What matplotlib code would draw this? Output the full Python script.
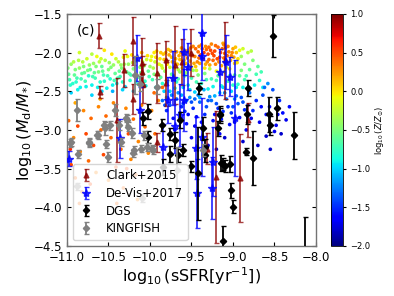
import numpy as np
import matplotlib
matplotlib.use("Agg")
import matplotlib.pyplot as plt

# ---------------- data ----------------
# background cloud, region by region: (log sSFR, log Md/M*, log Z/Zsun)
cloud_green_left = [
    (-10.98,-2.28,-0.6),(-10.95,-2.15,-0.4),(-10.93,-2.40,-0.8),(-10.90,-2.22,-0.5),(-10.88,-2.33,-0.7),
    (-10.86,-2.10,-0.3),(-10.84,-2.45,-0.9),(-10.82,-2.27,-0.6),(-10.80,-2.18,-0.5),(-10.78,-2.37,-0.7),
    (-10.76,-2.08,-0.2),(-10.74,-2.30,-0.8),(-10.72,-2.22,-0.6),(-10.70,-2.42,-0.9),(-10.68,-2.14,-0.4),
    (-10.66,-2.33,-0.7),(-10.64,-2.05,-0.1),(-10.62,-2.25,-0.5),(-10.60,-2.38,-0.8),(-10.58,-2.18,-0.6),
    (-10.56,-2.29,-0.7),(-10.54,-2.10,-0.3),(-10.52,-2.46,-0.9),(-10.50,-2.22,-0.5),(-10.48,-2.34,-0.8),
    (-10.46,-2.02,0.0),(-10.44,-2.16,-0.4),(-10.42,-2.27,-0.6),(-10.40,-2.40,-0.9),(-10.38,-2.12,-0.3),
    (-10.36,-2.31,-0.7),(-10.34,-2.20,-0.5),(-10.32,-2.06,-0.1),(-10.30,-2.44,-1.0),(-10.28,-2.25,-0.6),
    (-10.26,-2.15,-0.4),(-10.24,-2.36,-0.8),(-10.22,-2.03,0.0),(-10.20,-2.21,-0.5),(-10.18,-2.30,-0.7),
    (-10.16,-2.11,-0.2),(-10.14,-2.41,-0.9),(-10.12,-2.19,-0.5),(-10.10,-2.00,0.1),(-10.08,-2.28,-0.6),
    (-10.06,-2.37,-0.8),(-10.04,-2.09,-0.2),(-10.02,-2.24,-0.6),
    (-10.97,-2.35,-0.7),(-10.91,-2.29,-0.6),(-10.85,-2.20,-0.4),(-10.79,-2.26,-0.6),(-10.73,-2.16,-0.4),
    (-10.67,-2.26,-0.6),(-10.61,-2.12,-0.3),(-10.55,-2.37,-0.8),(-10.49,-2.13,-0.4),(-10.43,-2.36,-0.7),
    (-10.37,-2.24,-0.6),(-10.31,-2.15,-0.4),(-10.25,-2.27,-0.6),(-10.19,-2.08,-0.1),(-10.13,-2.32,-0.7),
    (-10.07,-2.17,-0.4),(-10.01,-2.31,-0.7),
    (-10.95,-2.52,-1.0),(-10.70,-2.55,-1.0),(-10.45,-2.50,-1.1),(-10.20,-2.50,-1.0),
    (-10.85,-2.00,-0.2),(-10.55,-1.97,0.0),(-10.30,-1.98,-0.1),(-10.70,-2.02,-0.3),
    (-10.99,-2.20,-0.5),(-10.96,-2.42,-0.8),(-10.92,-2.12,-0.3),(-10.89,-2.38,-0.8),(-10.83,-2.34,-0.7),
    (-10.81,-2.12,-0.3),(-10.77,-2.44,-0.9),(-10.75,-2.23,-0.5),(-10.69,-2.31,-0.7),(-10.65,-2.18,-0.5),
    (-10.63,-2.45,-0.9),(-10.59,-2.08,-0.2),(-10.57,-2.24,-0.6),(-10.51,-2.30,-0.7),(-10.47,-2.19,-0.5),
    (-10.45,-2.42,-0.9),(-10.41,-2.08,-0.2),(-10.39,-2.33,-0.7),(-10.35,-2.16,-0.4),(-10.33,-2.38,-0.8),
    (-10.27,-2.05,-0.1),(-10.23,-2.29,-0.7),(-10.21,-2.13,-0.3),(-10.17,-2.38,-0.8),(-10.11,-2.26,-0.6),
    (-10.09,-2.12,-0.3),(-10.05,-2.43,-0.9),(-10.03,-2.04,0.0),(-10.00,-2.18,-0.4),(-10.87,-2.48,-0.9),
    (-10.58,-2.50,-1.0),(-10.33,-2.48,-1.0),
]
cloud_yellow_mid = [
    (-9.98,-2.05,-0.1),(-9.96,-2.20,-0.3),(-9.94,-2.12,-0.2),(-9.92,-1.98,0.0),(-9.90,-2.28,-0.5),
    (-9.88,-2.08,0.0),(-9.86,-2.17,-0.2),(-9.84,-2.02,0.1),(-9.82,-2.24,-0.4),(-9.80,-2.11,0.0),
    (-9.78,-1.96,0.1),(-9.76,-2.19,-0.2),(-9.74,-2.06,0.1),(-9.72,-2.29,-0.5),(-9.70,-2.13,0.0),
    (-9.68,-1.99,0.2),(-9.66,-2.22,-0.3),(-9.64,-2.09,0.1),(-9.62,-1.94,0.2),(-9.60,-2.16,0.0),
    (-9.58,-2.03,0.2),(-9.56,-2.26,-0.4),(-9.54,-1.97,0.3),(-9.52,-2.11,0.1),(-9.50,-2.19,0.0),
    (-9.48,-1.92,0.3),(-9.46,-2.05,0.3),(-9.44,-2.23,-0.2),(-9.42,-1.99,0.4),(-9.40,-2.14,0.2),
    (-9.38,-1.90,0.3),(-9.36,-2.08,0.4),(-9.34,-2.20,0.0),(-9.32,-1.96,0.4),(-9.30,-2.02,0.5),
    (-9.28,-2.16,0.2),(-9.26,-1.89,0.3),(-9.24,-2.10,0.4),(-9.22,-1.98,0.5),(-9.20,-2.24,-0.1),
    (-9.18,-1.93,0.4),(-9.16,-2.06,0.5),(-9.14,-2.17,0.2),(-9.12,-1.88,0.2),(-9.10,-2.01,0.4),
    (-9.08,-2.12,0.3),(-9.06,-1.92,0.3),(-9.04,-2.21,0.0),(-9.02,-2.04,0.3),(-9.00,-1.95,0.2),
    (-8.98,-2.14,0.1),(-8.96,-2.00,0.1),(-8.94,-2.08,0.0),(-8.92,-1.97,-0.1),
    (-9.95,-2.00,0.0),(-9.89,-2.15,-0.1),(-9.83,-2.09,0.1),(-9.77,-2.03,0.2),(-9.71,-2.20,-0.2),
    (-9.65,-2.04,0.2),(-9.59,-2.10,0.2),(-9.53,-2.00,0.3),(-9.47,-2.14,0.2),(-9.41,-2.07,0.4),
    (-9.35,-2.00,0.5),(-9.29,-2.09,0.4),(-9.23,-2.04,0.5),(-9.17,-2.12,0.3),(-9.11,-2.07,0.4),
    (-9.05,-1.99,0.3),(-8.99,-2.06,0.2),(-9.45,-1.95,0.4),(-9.33,-1.92,0.3),(-9.21,-1.91,0.4),
    (-9.09,-1.94,0.3),(-9.57,-1.98,0.2),(-9.69,-2.08,0.1),(-9.81,-2.00,0.1),(-9.39,-2.03,0.5),
    (-9.27,-1.97,0.5),(-9.15,-2.00,0.5),(-9.03,-2.10,0.2),
    (-9.99,-2.10,-0.1),(-9.93,-2.06,0.0),(-9.87,-2.00,0.1),(-9.85,-2.20,-0.2),(-9.79,-2.15,0.0),
    (-9.75,-1.98,0.2),(-9.73,-2.12,0.1),(-9.67,-2.15,0.1),(-9.63,-2.00,0.2),(-9.61,-2.20,-0.1),
    (-9.55,-2.07,0.3),(-9.51,-1.94,0.3),(-9.49,-2.04,0.4),(-9.43,-2.12,0.3),(-9.37,-1.95,0.4),
    (-9.31,-2.12,0.3),(-9.25,-2.01,0.5),(-9.19,-2.08,0.5),(-9.13,-1.95,0.4),(-9.07,-2.04,0.4),
    (-9.01,-2.00,0.3),(-8.97,-1.93,0.1),(-8.95,-2.13,0.0),(-9.21,-2.15,0.3),(-9.33,-2.15,0.2),
    (-9.45,-2.18,0.1),(-9.57,-2.14,0.1),(-9.11,-1.90,0.3),(-9.29,-1.93,0.4),(-9.41,-1.92,0.3),
]
cloud_cyan_mid = [
    (-9.97,-2.35,-0.7),(-9.93,-2.45,-0.9),(-9.87,-2.32,-0.6),(-9.83,-2.50,-1.0),(-9.79,-2.38,-0.8),
    (-9.74,-2.28,-0.6),(-9.70,-2.46,-0.9),(-9.66,-2.34,-0.7),(-9.62,-2.55,-1.1),(-9.58,-2.30,-0.6),
    (-9.54,-2.42,-0.8),(-9.50,-2.33,-0.7),(-9.46,-2.51,-1.0),(-9.42,-2.29,-0.5),(-9.38,-2.40,-0.8),
    (-9.34,-2.27,-0.5),(-9.30,-2.47,-0.9),(-9.26,-2.34,-0.7),(-9.22,-2.56,-1.1),(-9.18,-2.30,-0.6),
    (-9.14,-2.43,-0.8),(-9.10,-2.25,-0.4),(-9.06,-2.37,-0.7),(-9.02,-2.50,-1.0),(-8.98,-2.29,-0.6),
    (-8.94,-2.41,-0.8),(-8.90,-2.23,-0.5),(-8.86,-2.35,-0.7),(-9.48,-2.23,-0.4),(-9.28,-2.21,-0.3),
    (-9.08,-2.19,-0.3),(-9.64,-2.25,-0.4),(-9.40,-2.58,-1.1),(-9.16,-2.52,-1.0),(-8.96,-2.45,-0.9),
    (-9.80,-2.58,-1.1),(-9.56,-2.62,-1.2),
    (-8.90,-2.05,-0.4),(-8.86,-2.15,-0.5),(-8.82,-2.00,-0.3),(-8.80,-2.22,-0.6),(-8.76,-2.10,-0.5),
    (-8.72,-2.28,-0.7),(-8.70,-2.18,-0.6),(-8.68,-2.36,-0.8),(-8.74,-2.42,-0.9),(-8.84,-2.30,-0.7),
    (-8.66,-2.25,-0.7),(-8.64,-2.45,-0.9),(-8.88,-1.95,-0.2),(-8.78,-1.98,-0.3),(-8.92,-2.30,-0.6),
    (-9.95,-2.28,-0.5),(-9.85,-2.40,-0.8),(-9.76,-2.50,-1.0),(-9.68,-2.38,-0.8),(-9.52,-2.48,-0.9),
    (-9.44,-2.38,-0.7),(-9.32,-2.35,-0.7),(-9.24,-2.44,-0.9),(-9.20,-2.36,-0.7),(-9.04,-2.30,-0.6),
    (-9.00,-2.42,-0.8),(-8.88,-2.45,-0.9),
]
cloud_blue_right = [
    (-9.85,-2.62,-1.3),(-9.80,-2.75,-1.5),(-9.76,-2.68,-1.4),(-9.72,-2.85,-1.6),(-9.68,-2.60,-1.3),
    (-9.64,-2.78,-1.5),(-9.60,-2.66,-1.4),(-9.56,-2.92,-1.6),(-9.52,-2.58,-1.2),(-9.48,-2.72,-1.5),
    (-9.44,-2.83,-1.6),(-9.40,-2.64,-1.3),(-9.36,-2.98,-1.7),(-9.32,-2.70,-1.4),(-9.28,-2.57,-1.2),
    (-9.24,-2.88,-1.6),(-9.20,-2.66,-1.4),(-9.16,-3.05,-1.7),(-9.12,-2.76,-1.5),(-9.08,-2.60,-1.3),
    (-9.04,-2.93,-1.6),(-9.00,-2.70,-1.4),(-8.96,-2.56,-1.3),(-8.92,-2.84,-1.6),(-8.88,-2.64,-1.4),
    (-8.84,-3.00,-1.7),(-8.80,-2.52,-1.3),(-8.76,-2.75,-1.5),(-8.72,-2.62,-1.5),(-8.68,-2.90,-1.7),
    (-8.64,-2.55,-1.4),(-8.60,-2.80,-1.6),(-8.56,-2.70,-1.6),(-8.52,-2.48,-1.4),(-8.48,-2.94,-1.7),
    (-8.44,-2.62,-1.5),(-8.40,-2.78,-1.6),(-8.36,-2.87,-1.7),(-8.32,-2.70,-1.6),(-8.60,-3.08,-1.8),
    (-8.50,-3.02,-1.7),(-8.70,-3.20,-1.8),(-8.55,-3.25,-1.8),(-9.50,-3.10,-1.7),(-9.30,-3.20,-1.8),
    (-9.70,-3.00,-1.7),(-9.20,-3.25,-1.8),(-8.88,-3.15,-1.8),(-8.58,-2.40,-1.2),(-8.62,-2.45,-1.3),
    (-9.66,-2.52,-1.2),(-9.58,-2.76,-1.5),(-9.50,-2.64,-1.4),(-9.42,-2.55,-1.2),(-9.34,-2.80,-1.5),
    (-9.26,-2.62,-1.3),(-9.18,-2.72,-1.5),(-9.10,-2.52,-1.2),(-9.02,-2.78,-1.5),(-8.94,-2.66,-1.4),
    (-9.74,-2.55,-1.2),(-9.38,-2.90,-1.6),(-9.14,-2.86,-1.6),(-8.86,-2.74,-1.5),
    (-9.60,-2.45,-1.0),(-9.35,-2.48,-1.1),(-9.12,-2.45,-1.0),(-8.98,-2.60,-1.2),
    (-9.82,-2.68,-1.4),(-9.62,-2.70,-1.5),(-9.54,-2.80,-1.6),(-9.46,-2.60,-1.3),(-9.30,-2.62,-1.4),
    (-9.22,-2.80,-1.6),(-9.06,-2.70,-1.5),(-8.98,-2.90,-1.7),(-8.90,-2.58,-1.4),(-8.82,-2.68,-1.5),
    (-8.78,-2.85,-1.7),(-8.66,-2.70,-1.6),(-8.46,-2.80,-1.7),(-8.42,-3.05,-1.8),(-9.46,-2.95,-1.7),
    (-9.10,-3.10,-1.8),
]
cloud_orange_low = [
    (-10.98,-2.88,0.4),(-10.95,-3.45,0.5),(-10.92,-3.10,0.3),(-10.90,-3.62,0.4),(-10.87,-2.95,0.5),
    (-10.84,-3.28,0.3),(-10.82,-3.80,0.4),(-10.80,-2.75,0.3),(-10.77,-3.05,0.5),(-10.74,-3.40,0.4),
    (-10.71,-2.85,0.4),(-10.68,-3.20,0.5),(-10.65,-3.55,0.3),(-10.62,-2.70,0.3),(-10.59,-3.00,0.4),
    (-10.56,-3.32,0.5),(-10.53,-2.82,0.4),(-10.50,-3.65,0.3),(-10.47,-3.10,0.4),(-10.44,-2.65,0.3),
    (-10.41,-3.48,0.5),(-10.38,-2.92,0.3),(-10.35,-3.25,0.4),(-10.32,-3.75,0.4),(-10.29,-2.72,0.3),
    (-10.26,-3.05,0.5),(-10.23,-3.38,0.3),(-10.20,-2.86,0.4),(-10.17,-3.58,0.4),(-10.14,-3.15,0.3),
    (-10.10,-2.68,0.3),(-10.06,-2.96,0.4),(-10.02,-3.30,0.3),(-9.98,-2.75,0.3),(-9.94,-3.05,0.4),
    (-10.90,-2.65,0.2),(-10.60,-2.60,0.2),(-10.85,-3.95,0.4),(-10.40,-3.95,0.4),(-10.15,-3.90,0.3),
    (-10.96,-3.25,0.6),(-10.72,-3.70,0.5),(-10.28,-3.50,0.5),
    (-9.95,-2.52,0.4),(-9.90,-2.62,0.3),(-9.85,-2.45,0.4),
]

# observed samples: x, y, symmetric y error
clark_x = [-10.61,-10.60,-10.40,-10.31,-10.20,-10.21,-10.10,-10.10,-10.08,-9.92,-9.81,-9.81,-9.70,-9.61,-9.50,-9.10,-8.82,-9.91,-9.31,-9.21,-8.91]
clark_y = [-1.78,-2.51,-2.87,-2.23,-1.85,-2.60,-2.13,-2.25,-2.40,-2.26,-2.39,-2.10,-2.16,-2.12,-2.00,-2.10,-2.87,-3.16,-3.24,-3.61,-3.62]
clark_e = [0.16,0.08,0.54,0.21,0.31,0.20,0.32,0.20,0.25,0.39,0.30,0.25,0.50,0.30,0.30,0.50,0.22,0.12,0.20,0.85,0.57]

devis_x = [-9.37,-9.37,-9.08,-9.16,-9.04,-9.54,-9.59,-9.59,-8.97,-9.37,-10.16,-9.72,-9.78,-9.64,-10.12,-10.36,-10.98,-9.84,-9.43,-9.24,-9.25,-9.45,-9.70]
devis_y = [-1.75,-2.05,-2.12,-2.25,-2.31,-2.18,-1.99,-2.61,-2.85,-3.09,-2.07,-2.33,-2.61,-2.81,-2.74,-3.11,-3.37,-3.22,-3.82,-3.41,-3.75,-3.23,-2.95]
devis_e = [0.35,0.30,0.35,0.30,0.25,0.30,0.30,0.40,0.75,0.50,0.30,0.35,0.30,0.40,0.30,0.25,0.10,0.30,0.45,0.45,0.40,0.40,0.35]

dgs_x = [-8.52,-8.82,-8.83,-8.57,-8.55,-8.47,-8.27,-8.84,-8.76,-9.41,-9.16,-9.85,-9.76,-9.70,-9.64,-9.60,-9.76,-9.66,-9.84,-9.36,-9.18,-9.16,-9.34,-9.12,-9.03,-9.50,-9.42,-9.34,-9.14,-9.10,-9.02,-9.00,-9.12,-8.13,-10.08,-10.02,-10.02]
dgs_y = [-1.79,-2.46,-2.80,-2.80,-2.94,-2.72,-3.07,-3.28,-3.36,-2.46,-2.81,-2.94,-3.05,-3.13,-2.87,-3.26,-3.31,-3.33,-3.48,-2.98,-2.98,-2.79,-3.22,-3.44,-3.44,-3.47,-3.56,-3.32,-3.43,-3.47,-3.78,-3.99,-4.44,-4.55,-2.85,-2.76,-3.09]
dgs_e = [0.27,0.10,0.12,0.23,0.12,0.15,0.30,0.05,0.35,0.07,0.10,0.08,0.08,0.10,0.10,0.08,0.10,0.08,0.10,0.15,0.10,0.10,0.10,0.08,0.10,0.07,0.60,0.10,0.10,0.08,0.10,0.08,0.20,0.42,0.08,0.10,0.08]

kf_x = [-10.88,-10.96,-10.74,-10.64,-10.54,-10.48,-10.42,-10.28,-10.22,-10.18,-10.12,-9.92,-10.63,-10.55,-10.53,-10.37,-10.35,-10.29,-10.27,-10.19,-10.11,-10.07,-10.95,-10.87,-10.73,-10.51,-10.04,-9.96,-10.20,-10.88,-10.10,-9.68,-9.98,-9.36]
kf_y = [-2.74,-3.17,-3.17,-3.06,-2.98,-2.94,-2.74,-2.87,-3.04,-2.29,-2.40,-2.44,-3.07,-2.94,-3.18,-2.94,-3.16,-2.85,-2.96,-3.26,-3.24,-3.07,-3.16,-3.31,-3.16,-3.35,-3.22,-3.26,-3.30,-3.73,-3.88,-3.52,-3.24,-3.26]
kf_e = [0.14,0.05,0.05,0.05,0.08,0.06,0.08,0.06,0.06,0.25,0.10,0.10,0.05,0.05,0.05,0.06,0.05,0.05,0.06,0.05,0.05,0.06,0.05,0.05,0.05,0.06,0.05,0.05,0.05,0.05,0.05,0.30,0.05,0.08]

x_ticks = [-11.0, -10.5, -10.0, -9.5, -9.0, -8.5, -8.0]
y_ticks = [-1.5, -2.0, -2.5, -3.0, -3.5, -4.0, -4.5]
cbar_ticks = [1.0, 0.5, 0.0, -0.5, -1.0, -1.5, -2.0]

# ---------------- plotting ----------------
fig = plt.figure(figsize=(3.94, 2.96), dpi=100)
ax = fig.add_axes([0.170, 0.169, 0.632, 0.784])
cax = fig.add_axes([0.840, 0.169, 0.030, 0.784])

cloud = np.array(cloud_green_left + cloud_yellow_mid + cloud_cyan_mid + cloud_blue_right + cloud_orange_low)
sc = ax.scatter(cloud[:, 0], cloud[:, 1], c=cloud[:, 2], cmap='jet', vmin=-2, vmax=1,
                s=7, marker='o', linewidths=0, zorder=1)

eb_kw = dict(linestyle='none', capsize=1.8, elinewidth=1.3, capthick=1.0)
ax.errorbar(clark_x, clark_y, yerr=clark_e, fmt='^', color='#8b0000', ms=3.5, alpha=0.75,
            label='Clark+2015', zorder=3, **eb_kw)
ax.errorbar(devis_x, devis_y, yerr=devis_e, fmt='*', color='blue', ms=6, alpha=0.8,
            label='De-Vis+2017', zorder=4, **eb_kw)
ax.errorbar(dgs_x, dgs_y, yerr=dgs_e, fmt='D', color='black', ms=3.2,
            label='DGS', zorder=5, **eb_kw)
ax.errorbar(kf_x, kf_y, yerr=kf_e, fmt='D', color='grey', ms=3.2,
            label='KINGFISH', zorder=6, **eb_kw)

ax.set_xlim(-11.0, -8.0)
ax.set_ylim(-4.5, -1.5)
ax.set_xticks(x_ticks)
ax.set_yticks(y_ticks)
ax.tick_params(direction='in', top=True, right=True, labelsize=8.5, length=3)
for sp in ax.spines.values():
    sp.set_color('0.45')
    sp.set_linewidth(1.0)

ax.set_xlabel(r'$\log_{10}$(sSFR[yr$^{-1}$])', fontsize=11.5, labelpad=1)
ax.set_ylabel(r'$\log_{10}(M_{\rm d}/M_{*})$', fontsize=11.5, labelpad=0)
ax.text(0.04, 0.96, '(c)', transform=ax.transAxes, fontsize=10, va='top', ha='left')

leg = ax.legend(loc='lower left', fontsize=8.5, handlelength=1.5, borderpad=0.4,
                labelspacing=0.4, handletextpad=0.9, framealpha=0.8)
leg.set_zorder(10)

cb = fig.colorbar(sc, cax=cax)
cb.set_ticks(cbar_ticks)
cb.ax.tick_params(labelsize=6, length=2)
cb.set_label(r'$\log_{10}(Z/Z_{\odot})$', fontsize=6, labelpad=2)
cb.outline.set_linewidth(0.6)

fig.savefig('out.png', dpi=100)
